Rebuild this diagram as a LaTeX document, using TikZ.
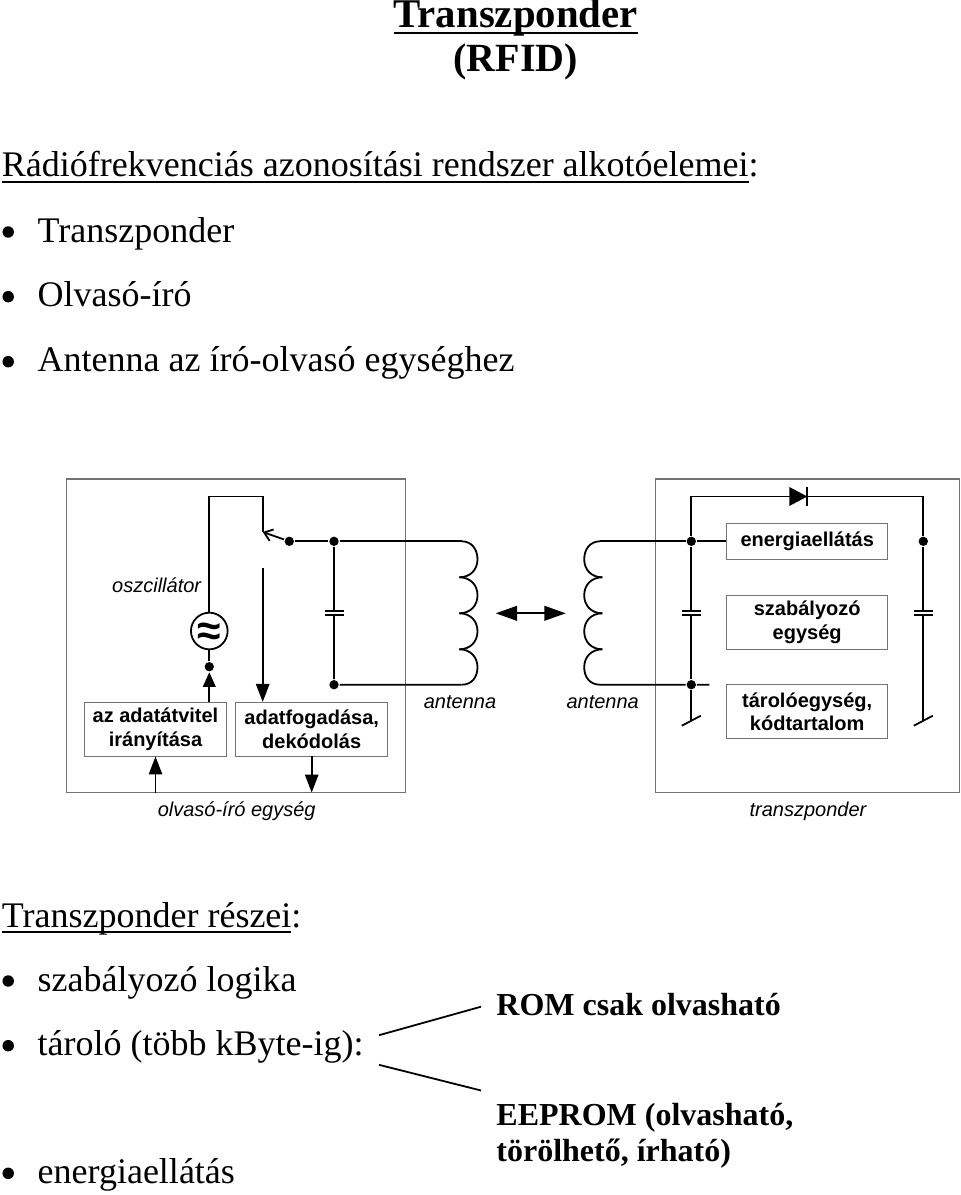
\documentclass[tikz,border=0pt]{standalone}
\usepackage{fontspec}
\setmainfont{Liberation Serif}
\setsansfont{Liberation Sans}
\usetikzlibrary{arrows.meta}
\newcommand{\alahuz}[1]{\leavevmode\setbox0\hbox{#1}\rlap{\vrule width\wd0 height -3pt depth 4.5pt}\box0}
\tikzset{
  szoveg/.style={anchor=base west,inner sep=0pt,font=\fontsize{27}{32}\selectfont},
  felirat/.style={anchor=base,inner sep=0pt,font=\sffamily\itshape\fontsize{15}{17.5}\selectfont},
  blokk/.style={draw=black!55,line width=.7pt,inner sep=0pt,align=center,font=\sffamily\bfseries\fontsize{15}{17.5}\selectfont},
  keret/.style={draw=black!55,line width=.8pt,inner sep=0pt},
  pont/.style={circle,fill=black,inner sep=0pt,minimum size=7pt},
  felsorol/.style={circle,fill=black,inner sep=0pt,minimum size=8.6pt},
  nyil/.style={-{Triangle[length=13.5pt,width=10pt]}},
  tekercs/.pic={
    \coordinate (-be) at (0,0);
    \coordinate (-ki) at (0,143.4);
    \draw (0,0) .. controls (10,0) and (15.8,8) .. (15.8,18) .. controls (15.8,28) and (9,36) .. (-2.4,36);
    \foreach \y in {36,72} {
      \draw (-2.4,\y) .. controls (9,\y) and (15.8,\y+8) .. (15.8,\y+18) .. controls (15.8,\y+28) and (9,\y+36) .. (-2.4,\y+36);
    }
    \draw (-2.4,108) .. controls (9,108) and (15.8,116) .. (15.8,126) .. controls (15.8,136) and (10,143.4) .. (0,143.4);
  },
  kond/.pic={
    \coordinate (-f) at (0,-2.3);
    \coordinate (-a) at (0,2.3);
    \draw (-9.5,-2.3) -- (9.5,-2.3) (-9.5,2.3) -- (9.5,2.3);
  },
  fold/.pic={
    \coordinate (-k) at (0,0);
    \draw (-9.5,5) -- (9.5,-5);
  }
}
\begin{document}
\begin{tikzpicture}[x=.75pt,y=-.75pt,line width=1.35pt]
  \useasboundingbox (0,0) rectangle (960,1195);

  \node[anchor=base,inner sep=0pt,font=\bfseries\fontsize{30.6}{36}\selectfont] (cim) at (515.7,28) {\alahuz{Transzponder}};
  \node[anchor=base,inner sep=0pt,font=\bfseries\fontsize{30}{36}\selectfont] (rfid) at (515.7,71.7) {(RFID)};
  \node[szoveg] (elemek) at (1,176.7) {\alahuz{Rádiófrekvenciás azonosítási rendszer alkotóelemei}:};
  \node[szoveg] (reszek) at (1,927.3) {\alahuz{Transzponder részei}:};
  \foreach \n/\y/\t in {a/242/Transzponder,b/306.7/Olvasó-író,c/371.7/Antenna az író-olvasó egységhez,d/991/szabályozó logika,e/1055.7/tároló (több kByte-ig):,f/1183.3/energiaellátás} {
    \node[szoveg] (l\n) at (36.8,\y) {\t};
    \node[felsorol] (b\n) at (8.2,\y-10) {};
  }
  \node[szoveg,font=\bfseries\fontsize{24}{28}\selectfont] (rom) at (495.5,1015) {ROM csak olvasható};
  \node[szoveg,font=\bfseries\fontsize{24}{28}\selectfont] (eeprom) at (495.5,1125.7) {EEPROM (olvasható,};
  \node[szoveg,font=\bfseries\fontsize{24}{28}\selectfont] (torol) at (495.5,1161.7) {törölhető, írható)};
  \draw (379,1035.2) coordinate (ag1) -- (481,1006.7) coordinate (ag2);
  \draw (379,1064.8) coordinate (ag3) -- (481,1090.5) coordinate (ag4);

  \node[keret,minimum width=254.6pt,minimum height=234.8pt] (olvaso) at (236.2,635.5) {};
  \node[keret,minimum width=227.5pt,minimum height=234.8pt] (transz) at (807.4,635.5) {};
  \node[felirat] (lolvaso) at (236.7,816) {olvasó-író egység};
  \node[felirat] (ltransz) at (808,816) {transzponder};
  \node[felirat] (losz) at (156.7,592.3) {oszcillátor};
  \node[felirat] (lant1) at (460,708) {antenna};
  \node[felirat] (lant2) at (602.7,708) {antenna};

  \node[blokk,minimum width=107pt,minimum height=40.2pt] (iranyit) at (155.5,729.2) {az adatátvitel\\irányítása};
  \node[blokk,minimum width=114pt,minimum height=40.2pt] (fogad) at (311.7,729.2) {adatfogadása,\\dekódolás};
  \node[blokk,minimum width=120.8pt,minimum height=27pt] (energia) at (807.2,541.3) {energiaellátás};
  \node[blokk,minimum width=120.8pt,minimum height=40.2pt] (szab) at (807.2,622.2) {szabályozó\\egység};
  \node[blokk,minimum width=120.8pt,minimum height=40.2pt] (tarolo) at (807.2,711.5) {tárolóegység,\\kódtartalom};

  \node[draw,circle,inner sep=0pt,minimum size=27.5pt] (osc) at (209.3,631) {};
  \node[inner sep=0pt,font=\sffamily\bfseries\fontsize{32}{32}\selectfont] (oscjel) at (209.3,634) {≈};
  \node[pont] (p1) at (209.3,666.7) {};
  \node[pont] (p2) at (289.3,541.3) {};
  \node[pont] (p3) at (334,541.3) {};
  \node[pont] (p4) at (334,684.7) {};
  \node[pont] (p5) at (691.3,541.3) {};
  \node[pont] (p6) at (691.3,684.7) {};
  \node[pont] (p7) at (923.3,541.3) {};
  \coordinate (sarok1) at (209.3,496.5);
  \coordinate (sarok2) at (262.7,496.5);
  \coordinate (kapcs) at (262.7,532);
  \coordinate (kapcs2) at (262.7,568.3);
  \coordinate (dfel) at (691.3,496.5);
  \coordinate (jfel) at (923.3,496.5);
  \coordinate (dkat) at (807.3,496.5);
  \coordinate (vezveg) at (709.3,684.7);

  \pic (t1) at (461.7,541.3) {tekercs};
  \pic[xscale=-1] (t2) at (600,541.3) {tekercs};
  \pic (c1) at (334,613) {kond};
  \pic (c2) at (691.3,613) {kond};
  \pic (c3) at (923.3,613) {kond};
  \pic (f1) at (691.3,720.7) {fold};
  \pic (f2) at (923.3,720.7) {fold};

  \draw (osc) -- (sarok1) -- (sarok2) -- (kapcs);
  \draw[-{Straight Barb[length=6pt,width=9pt]}] (p2) -- (kapcs);
  \draw (p2) -- (p3) -- (t1-be);
  \draw (p3) -- (c1-f) (c1-a) -- (p4) -- (t1-ki);
  \draw (osc) -- (p1);
  \draw[-{Triangle[length=11pt,width=9.5pt]}] (iranyit.north -| p1) -- (p1);
  \draw[nyil] (kapcs2) -- (kapcs2 |- fogad.north);
  \draw[nyil] (iranyit.south |- olvaso.south) -- (iranyit.south);
  \draw[nyil] (fogad.south) -- (fogad.south |- olvaso.south);
  \draw[{Triangle[length=16pt,width=11pt]}-{Triangle[length=16pt,width=11pt]}] (495.7,613.3) coordinate (ny1) -- (565.7,613.3) coordinate (ny2);

  \draw (t2-be) -- (p5) -- (energia);
  \draw (t2-ki) -- (p6) -- (vezveg);
  \draw (f1-k) -- (p6) -- (c2-a) (c2-f) -- (p5) -- (dfel) -- (dkat) -- (jfel) -- (p7) -- (c3-f) (c3-a) -- (f2-k);
  \fill (789.3,487) -- (807.3,496.5) -- (789.3,506) -- cycle;
  \draw (807.3,487) -- (807.3,506);
\end{tikzpicture}
\end{document}
